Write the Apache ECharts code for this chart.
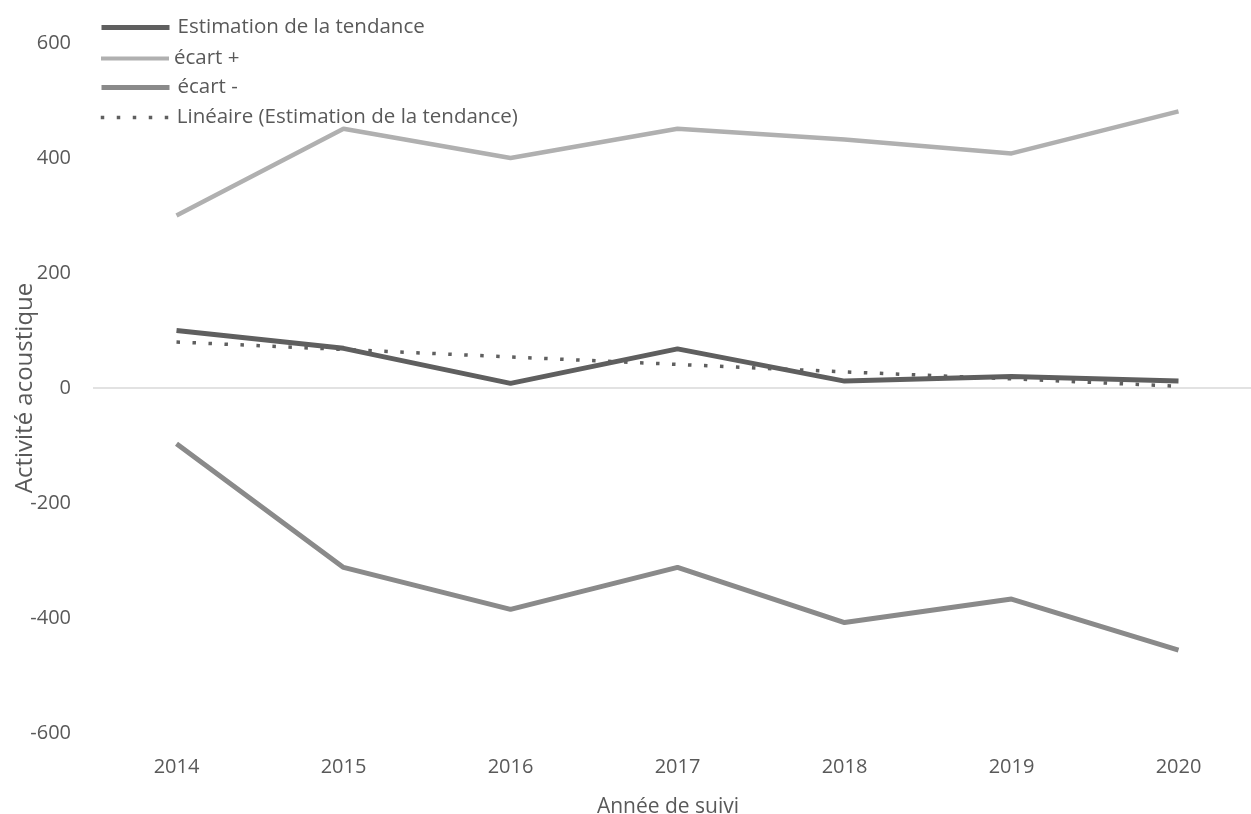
<!DOCTYPE html>
<html>
<head>
<meta charset="utf-8">
<script src="https://cdn.jsdelivr.net/npm/echarts@6/dist/echarts.min.js"></script>
<style>
html,body{margin:0;padding:0;background:#fff;}
#chart{width:1251px;height:814px;}
</style>
</head>
<body>
<div id="chart"></div>
<script>
const years = ['2014','2015','2016','2017','2018','2019','2020'];
const estimation = [100, 69, 8, 68, 12, 20, 12];
const ecartPlus = [300, 451, 400, 451, 432, 408, 481];
const ecartMoins = [-97, -312, -385, -312, -408, -367, -456];
const lineaire = [80, 67, 54, 41, 28, 16, 3];

const seriesNames = ['Estimation de la tendance', 'écart +', 'écart -', 'Linéaire (Estimation de la tendance)'];
const textColor = '#595959';
const font = 'Open Sans';

const chart = echarts.init(document.getElementById('chart'), null, {renderer: 'canvas'});

function legendAt(name, top, lineStyle, gap) {
  return {
    data: [name],
    left: 99,
    top: top,
    orient: 'vertical',
    itemWidth: 68,
    itemHeight: 14,
    itemGap: 0,
    padding: 0,
    itemStyle: {opacity: 0},
    lineStyle: lineStyle,
    textStyle: {color: textColor, fontSize: 20.5, fontFamily: font, padding: [0, 0, 0, gap]},
    selectedMode: false
  };
}

chart.setOption({
  animation: false,
  backgroundColor: '#fff',
  grid: {left: 93, width: 1169, top: 43, bottom: 81, containLabel: false, outerBoundsMode: 'none'},
  legend: [
    legendAt(seriesNames[0], 17, {width: 5, color: '#5f5f5f'}, 3),
    legendAt(seriesNames[1], 48, {width: 4, color: '#b0b0b0'}, 0),
    legendAt(seriesNames[2], 77, {width: 5, color: '#8a8a8a'}, 3),
    legendAt(seriesNames[3], 107, {width: 3.5, color: '#5f5f5f', type: [3.5, 12.5]}, 3)
  ],
  xAxis: {
    type: 'category',
    data: years,
    boundaryGap: true,
    axisLine: {show: false},
    axisTick: {show: false},
    axisLabel: {color: textColor, fontSize: 20, fontFamily: font, margin: 24},
    name: 'Année de suivi',
    nameLocation: 'middle',
    nameGap: 64,
    nameMoveOverlap: false,
    nameTextStyle: {color: textColor, fontSize: 21, fontFamily: font, padding: [0, 0, 0, -19]}
  },
  yAxis: {
    type: 'value',
    min: -600,
    max: 600,
    interval: 200,
    axisLine: {show: false},
    axisTick: {show: false},
    splitLine: {show: false},
    axisLabel: {color: textColor, fontSize: 20, fontFamily: font, margin: 22},
    name: 'Activité acoustique',
    nameLocation: 'middle',
    nameGap: 56,
    nameMoveOverlap: false,
    nameTextStyle: {color: textColor, fontSize: 24, fontFamily: font}
  },
  series: [
    {
      name: seriesNames[0],
      type: 'line',
      data: estimation,
      symbol: 'none',
      z: 4,
      color: '#5f5f5f',
      lineStyle: {color: '#5f5f5f', width: 5, cap: 'butt'},
      markLine: {
        silent: true,
        symbol: 'none',
        label: {show: false},
        lineStyle: {color: '#d9d9d9', width: 1.5, type: 'solid'},
        data: [{yAxis: 0}]
      }
    },
    {
      name: seriesNames[1],
      type: 'line',
      data: ecartPlus,
      symbol: 'none',
      z: 3,
      color: '#b0b0b0',
      lineStyle: {color: '#b0b0b0', width: 4.5, cap: 'butt'}
    },
    {
      name: seriesNames[2],
      type: 'line',
      data: ecartMoins,
      symbol: 'none',
      z: 3,
      color: '#8a8a8a',
      lineStyle: {color: '#8a8a8a', width: 5, cap: 'butt'}
    },
    {
      name: seriesNames[3],
      type: 'line',
      data: lineaire,
      symbol: 'none',
      z: 5,
      color: '#5f5f5f',
      lineStyle: {color: '#5f5f5f', width: 3.5, type: [3.5, 12.5], cap: 'butt'}
    }
  ]
});
</script>
</body>
</html>
